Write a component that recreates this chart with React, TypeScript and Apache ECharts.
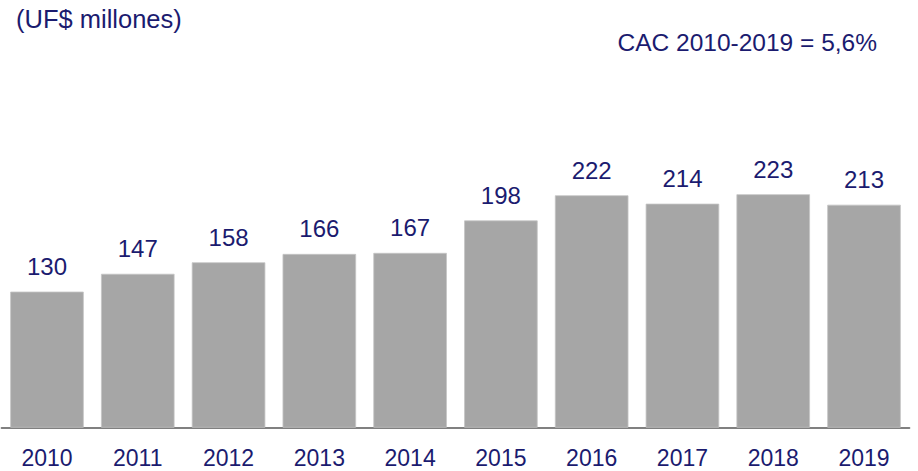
import React, { useEffect, useRef } from "react";
import * as echarts from "echarts";

const categories = ["2010", "2011", "2012", "2013", "2014", "2015", "2016", "2017", "2018", "2019"];
const values = [130, 147, 158, 166, 167, 198, 222, 214, 223, 213];
const unitLabel = "(UF$ millones)";
const cagrLabel = "CAC 2010-2019 = 5,6%";

const NAVY = "#1b1b6f";
const FONT = "'Liberation Sans', Arial, sans-serif";

export default function App() {
  const ref = useRef<HTMLDivElement>(null);
  useEffect(() => {
    document.body.style.margin = "0";
    const chart = echarts.init(ref.current!, null, { renderer: "svg" });
    chart.setOption({
      animation: false,
      backgroundColor: "#ffffff",
      textStyle: { fontFamily: FONT },
      graphic: [
        {
          type: "text",
          left: 16,
          top: 6,
          style: { text: unitLabel, fill: NAVY, font: `25.5px ${FONT}` },
        },
        {
          type: "text",
          right: 41,
          top: 30,
          style: { text: cagrLabel, fill: NAVY, font: `24.5px ${FONT}` },
        },
      ],
      grid: { left: 1.6, right: 8.6, top: 166, bottom: 43.3, containLabel: false },
      xAxis: {
        type: "category",
        data: categories,
        axisTick: { show: false },
        axisLine: { lineStyle: { color: "#808080", width: 2 } },
        axisLabel: { color: NAVY, fontSize: 23, fontFamily: FONT, margin: 19 },
      },
      yAxis: {
        type: "value",
        min: 0,
        max: 250,
        show: false,
        splitLine: { show: false },
      },
      series: [
        {
          type: "bar",
          data: values,
          barCategoryGap: "19%",
          itemStyle: { color: "#a6a6a6", borderColor: "#c4c4c4", borderWidth: 0.8 },
          label: {
            show: true,
            position: "top",
            distance: 13,
            color: NAVY,
            fontSize: 24,
            fontFamily: FONT,
          },
        },
      ],
    });
    return () => chart.dispose();
  }, []);
  return <div ref={ref} style={{ width: 918, height: 471 }} />;
}
